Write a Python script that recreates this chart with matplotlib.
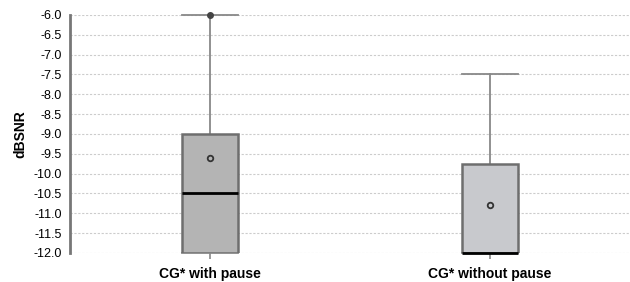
import matplotlib
matplotlib.use("Agg")
import matplotlib.pyplot as plt

plt.rcParams['font.family'] = ['Liberation Sans', 'DejaVu Sans']

# box statistics
labels = ['CG* with pause', 'CG* without pause']
q1 = [-12.0, -12.0]
q3 = [-9.0, -9.75]
medians = [-10.5, -12.0]
means = [-9.6, -10.8]
whislo = [-12.0, -12.0]
whishi = [-6.0, -7.5]
fliers = [[-6.0], []]
colors = ['#b4b4b4', '#c8c9cd']

stats = []
for i in range(len(labels)):
    stats.append(dict(label=labels[i], q1=q1[i], q3=q3[i], med=medians[i],
                      mean=means[i], whislo=whislo[i], whishi=whishi[i],
                      fliers=fliers[i]))

fig = plt.figure(figsize=(6.3, 2.82), dpi=100)
ax = fig.add_axes([0.111, 0.103, 0.889, 0.844])

bp = ax.bxp(stats, positions=[1, 2], widths=0.2, showmeans=True,
            patch_artist=True, showcaps=True,
            boxprops=dict(edgecolor='#6e6e6e', linewidth=1.8),
            medianprops=dict(color='black', linewidth=2),
            whiskerprops=dict(color='#888888', linewidth=1.3),
            capprops=dict(color='#888888', linewidth=1.3),
            capwidths=0.2,
            meanprops=dict(marker='o', markerfacecolor='none', markeredgecolor='#333333',
                           markersize=4, markeredgewidth=1.3),
            flierprops=dict(marker='o', markerfacecolor='#444444', markeredgecolor='#444444',
                            markersize=4))
for patch, c in zip(bp['boxes'], colors):
    patch.set_facecolor(c)
    patch.set_zorder(3)
for ln in bp['medians'] + bp['means'] + bp['fliers']:
    ln.set_zorder(4)
    ln.set_clip_on(False)
for ln in bp['caps'] + bp['whiskers']:
    ln.set_clip_on(False)

ax.set_xlim(0.5, 2.5)
ax.set_ylim(-12.0, -6.0)
ax.set_yticks([-12 + 0.5 * k for k in range(13)])
ax.set_yticklabels(['%.1f' % (-12 + 0.5 * k) for k in range(13)], fontsize=9)
ax.yaxis.grid(True, linestyle=(0, (2, 1.5)), color='#cccccc', linewidth=0.8)
ax.set_axisbelow(True)
ax.tick_params(axis='y', length=0, pad=6)
ax.tick_params(axis='x', length=4, color='#888888', width=1.2, pad=6)
ax.set_xticklabels(labels, fontsize=10, fontweight='bold')
ax.set_ylabel('dBSNR', fontsize=10, fontweight='bold', labelpad=4)

for s in ['top', 'right', 'bottom']:
    ax.spines[s].set_visible(False)
ax.spines['left'].set_color('#777777')
ax.spines['left'].set_linewidth(2)

fig.savefig('out.png', dpi=100)
